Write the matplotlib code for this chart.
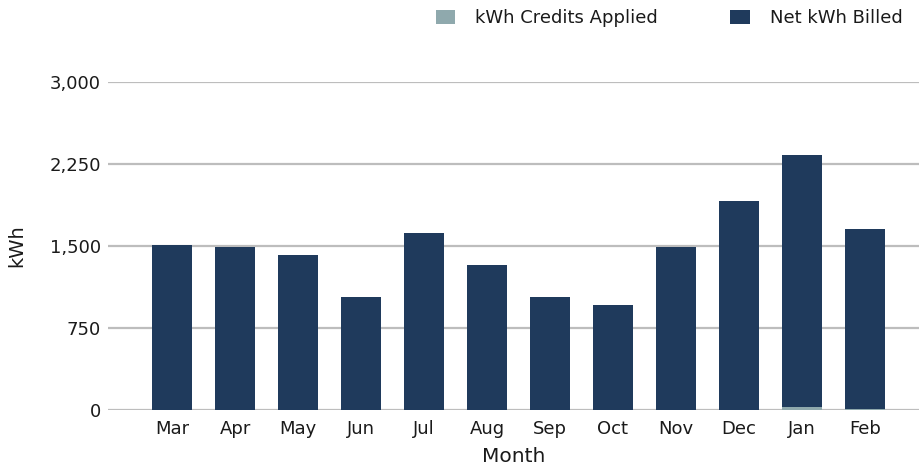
import numpy as np
import matplotlib
matplotlib.use("Agg")
import matplotlib.pyplot as plt
from matplotlib.ticker import FuncFormatter

months = ["Mar", "Apr", "May", "Jun", "Jul", "Aug", "Sep", "Oct", "Nov", "Dec", "Jan", "Feb"]
credits = [0, 0, 0, 0, 0, 0, 0, 0, 0, 0, 30, 10]
billed = [1509, 1491, 1418, 1033, 1619, 1326, 1033, 960, 1491, 1911, 2302, 1645]

navy = "#1f3a5c"
teal = "#8fa9ad"
grid_c = "#bdbdbd"
text_c = "#1a1a1a"

plt.rcParams["font.family"] = ["DejaVu Sans"]

fig = plt.figure(figsize=(9.19, 4.72), dpi=100)
ax = fig.add_axes([108 / 919, (472 - 410) / 472, (919 - 108) / 919, (410 - 82) / 472])

x = np.arange(len(months))
ax.bar(x, credits, width=0.635, color=teal, label="kWh Credits Applied", zorder=3)
ax.bar(x, billed, width=0.635, bottom=credits, color=navy, label="Net kWh Billed", zorder=3)

ax.set_ylim(0, 3000)
ax.set_xlim(-1.02, 11.86)
ax.set_yticks([0, 750, 1500, 2250, 3000])
ax.yaxis.set_major_formatter(FuncFormatter(lambda v, p: f"{int(v):,}"))
ax.grid(axis="y", color=grid_c, linewidth=1.6, zorder=0)
ax.set_xticks(x)
ax.set_xticklabels(months)
for s in ax.spines.values():
    s.set_visible(False)
ax.tick_params(axis="both", length=0, labelsize=13, colors=text_c)
ax.tick_params(axis="x", pad=7)
ax.tick_params(axis="y", pad=5)
ax.set_xlabel("Month", fontsize=14.5, color=text_c, labelpad=7)
ax.set_ylabel("kWh", fontsize=14, color=text_c, labelpad=17)

fig.legend(loc="upper right", bbox_to_anchor=(1.0, 1.015), ncol=2, frameon=False,
           fontsize=13, handlelength=1.1, handleheight=0.85, columnspacing=4.0,
           labelcolor=text_c, handletextpad=1.1)

fig.savefig("out.png", dpi=100)
